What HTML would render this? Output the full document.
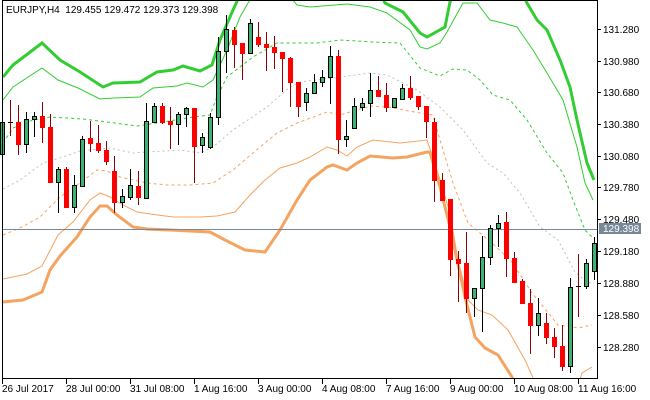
<!DOCTYPE html>
<html><head><meta charset="utf-8"><style>
html,body{margin:0;padding:0;background:#fff;}
svg{display:block;font-family:"Liberation Sans",sans-serif;font-size:10px;}
</style></head><body>
<svg id="s" width="650" height="400" viewBox="0 0 650 400" xmlns="http://www.w3.org/2000/svg">
<defs><clipPath id="c"><rect x="2" y="1" width="595" height="377"/></clipPath></defs>
<rect width="650" height="400" fill="#fff"/>
<g id="lines" clip-path="url(#c)" fill="none">
<polyline stroke="#32cd32" stroke-width="3" points="3,77 13,65 42,43 60,60 80,72 103,87 113,83 140,82 157,72 173,70 183,66 200,71 212,65 220,40 233,10 240,-5 260,-30 370,-30 385,3 403,12 420,33 427,37 445,27 450,2 460,-20 515,-20 527,3 537,20 547,30 560,60 570,87 577,120 587,163 594,180"/>
<polyline stroke="#32cd32" stroke-width="1" points="3,100 13,87 42,68 58,80 78,88 100,99 113,98 140,97 153,88 177,86 187,83 203,87 213,80 227,50 240,17 248,3 260,-15 285,-10 297,5 310,7 347,4 370,7 387,13 410,30 420,47 427,49 440,43 447,32 463,3 477,3 490,20 503,23 517,27 533,50 547,73 563,100 577,147 585,183 593,200"/>
<polyline stroke="#32cd32" stroke-width="1" stroke-dasharray="3,3" points="3,143 13,128 33,120 50,117 83,119 107,122 137,126 157,123 193,117 210,115 217,97 227,77 253,57 277,43 283,43 317,43 340,40 373,42 400,43 420,68 440,76 453,69 467,70 480,80 493,95 510,100 527,120 547,153 563,173 573,200 577,210 585,230 592,237"/>
<polyline stroke="#c0c0c0" stroke-width="1" stroke-dasharray="2,3" points="3,189 20,180 43,163 63,157 80,151 110,148 133,153 147,152 180,150 200,153 213,147 233,130 267,107 290,87 300,82 333,78 370,73 387,75 417,90 440,107 463,130 487,163 503,173 520,193 540,227 558,240 575,272 588,283 594,283"/>
<polyline stroke="#f4a460" stroke-width="1" stroke-dasharray="3,3" points="3,235 20,228 40,217 60,197 80,183 97,170 107,171 120,177 147,183 167,185 190,185 213,183 233,170 260,147 277,133 297,123 327,112 340,115 370,106 387,107 420,113 433,115 440,140 453,183 468,223 492,243 512,262 532,293 558,325 578,328 592,325"/>
<polyline stroke="#f4a460" stroke-width="1" points="3,279 27,274 42,266 58,235 73,222 90,200 100,193 110,197 123,205 137,212 150,214 173,217 200,217 217,216 235,212 250,195 265,180 280,168 297,163 310,157 327,147 337,150 347,156 357,147 373,140 400,143 427,140 437,170 450,213 458,260 468,300 478,310 492,315 508,330 525,360 533,378 540,395 575,395 582,373 592,367"/>
<polyline stroke="#f4a460" stroke-width="3" points="3,302 23,300 42,292 50,270 60,256 77,237 90,217 100,206 107,206 117,215 133,227 147,229 170,230 210,232 225,240 245,250 265,252 280,230 297,200 310,180 327,167 333,165 347,170 357,163 370,156 393,158 407,157 427,152 430,152 440,187 450,227 465,297 475,337 485,348 498,355 512,377 520,395"/>
</g>
<line x1="2" y1="229.5" x2="597" y2="229.5" stroke="#778899" stroke-width="1"/>
<g id="candles"></g>
<line x1="2.5" y1="0" x2="2.5" y2="379" stroke="#000"/>
<line x1="2" y1="0.5" x2="597" y2="0.5" stroke="#000"/>
<line x1="597.5" y1="0" x2="597.5" y2="379" stroke="#000"/>
<line x1="2" y1="378.5" x2="598" y2="378.5" stroke="#000"/>
<g stroke="#000">
<line x1="597" y1="29.5" x2="601" y2="29.5"/><line x1="597" y1="61.5" x2="601" y2="61.5"/><line x1="597" y1="92.5" x2="601" y2="92.5"/><line x1="597" y1="124.5" x2="601" y2="124.5"/><line x1="597" y1="156.5" x2="601" y2="156.5"/><line x1="597" y1="187.5" x2="601" y2="187.5"/><line x1="597" y1="219.5" x2="601" y2="219.5"/><line x1="597" y1="251.5" x2="601" y2="251.5"/><line x1="597" y1="283.5" x2="601" y2="283.5"/><line x1="597" y1="315.5" x2="601" y2="315.5"/><line x1="597" y1="347.5" x2="601" y2="347.5"/>
<line x1="2.5" y1="379" x2="2.5" y2="384"/><line x1="66.5" y1="379" x2="66.5" y2="384"/><line x1="130.5" y1="379" x2="130.5" y2="384"/><line x1="194.5" y1="379" x2="194.5" y2="384"/><line x1="258.5" y1="379" x2="258.5" y2="384"/><line x1="322.5" y1="379" x2="322.5" y2="384"/><line x1="386.5" y1="379" x2="386.5" y2="384"/><line x1="450.5" y1="379" x2="450.5" y2="384"/><line x1="514.5" y1="379" x2="514.5" y2="384"/><line x1="578.5" y1="379" x2="578.5" y2="384"/>
</g>
<g fill="#000">
<text x="603" y="33">131.280</text><text x="603" y="65">130.980</text><text x="603" y="96">130.680</text><text x="603" y="128">130.380</text><text x="603" y="160">130.080</text><text x="603" y="191">129.780</text><text x="603" y="223">129.480</text><text x="603" y="255">129.180</text><text x="603" y="287">128.880</text><text x="603" y="319">128.580</text><text x="603" y="351">128.280</text>
<text x="2" y="392">26 Jul 2017</text><text x="66" y="392">28 Jul 00:00</text><text x="130" y="392">31 Jul 08:00</text><text x="194" y="392">1 Aug 16:00</text><text x="258" y="392">3 Aug 00:00</text><text x="322" y="392">4 Aug 08:00</text><text x="386" y="392">7 Aug 16:00</text><text x="450" y="392">9 Aug 00:00</text><text x="514" y="392">10 Aug 08:00</text><text x="578" y="392">11 Aug 16:00</text>
<text x="6" y="13" xml:space="preserve">EURJPY,H4  129.455 129.472 129.373 129.398</text>
</g>
<rect x="599" y="223" width="42" height="11" fill="#778899"/>
<text x="603" y="232" fill="#fff">129.398</text>
</svg>
<script>
var d=[[154,122,120,156],[122,122,100,136],[122,144,105,155],[144,119,112,153],[119,116,112,137],[116,127,102,143],[127,182,114,182],[182,169,167,213],[169,207,167,207],[207,185,175,213],[186,139,136,186],[138,143,121,152],[143,150,125,153],[150,161,141,165],[171,202,156,213],[202,196,189,208],[197,185,169,200],[186,197,171,205],[198,121,103,198],[122,106,103,123],[106,122,103,124],[121,124,107,149],[124,114,112,145],[114,108,107,127],[108,146,108,183],[145,137,133,153],[147,117,113,149],[117,51,37,125],[51,29,15,73],[30,44,27,68],[43,53,43,80],[53,23,19,53],[37,44,22,47],[44,47,32,71],[47,52,36,69],[52,58,52,92],[58,82,57,107],[82,106,82,117],[102,93,88,111],[93,82,74,93],[82,77,70,87],[77,56,46,104],[56,139,50,154],[139,136,120,147],[128,106,98,128],[107,103,98,111],[103,90,73,117],[90,96,76,97],[95,107,83,112],[107,98,98,108],[99,88,84,100],[88,97,76,100],[96,106,96,110],[106,121,106,138],[122,180,118,202],[180,200,173,200],[199,259,199,276],[259,263,251,302],[263,298,232,313],[298,288,288,317],[288,257,236,332],[257,228,225,265],[228,223,215,247],[222,258,212,277],[258,282,252,283],[281,303,279,303],[303,325,289,354],[325,313,298,336],[323,337,313,344],[337,346,328,358],[346,366,325,371],[366,287,278,373],[286,286,254,317],[286,263,259,289],[271,243,237,280]];
var g=document.getElementById('candles'),h='';
for(var i=0;i<d.length;i++){var x=2+8*i,o=d[i][0],c=d[i][1],hi=d[i][2],lo=d[i][3];
var up=c<o,t=Math.min(o,c),b=Math.max(o,c);
h+='<line x1="'+(x+0.5)+'" y1="'+hi+'" x2="'+(x+0.5)+'" y2="'+lo+'" stroke="'+(up?'#000':'#8b0000')+'"/>';
if(b-t<1){h+='<line x1="'+(x-2)+'" y1="'+(t+0.5)+'" x2="'+(x+3)+'" y2="'+(t+0.5)+'" stroke="#000"/>';}
else if(up){h+='<rect x="'+(x-1.5)+'" y="'+(t+0.5)+'" width="4" height="'+(b-t)+'" fill="#3cb371" stroke="#000"/>';}
else{h+='<rect x="'+(x-2)+'" y="'+t+'" width="5" height="'+(b-t+1)+'" fill="#f00"/>';}}
g.innerHTML=h;
</script>
</body></html>
